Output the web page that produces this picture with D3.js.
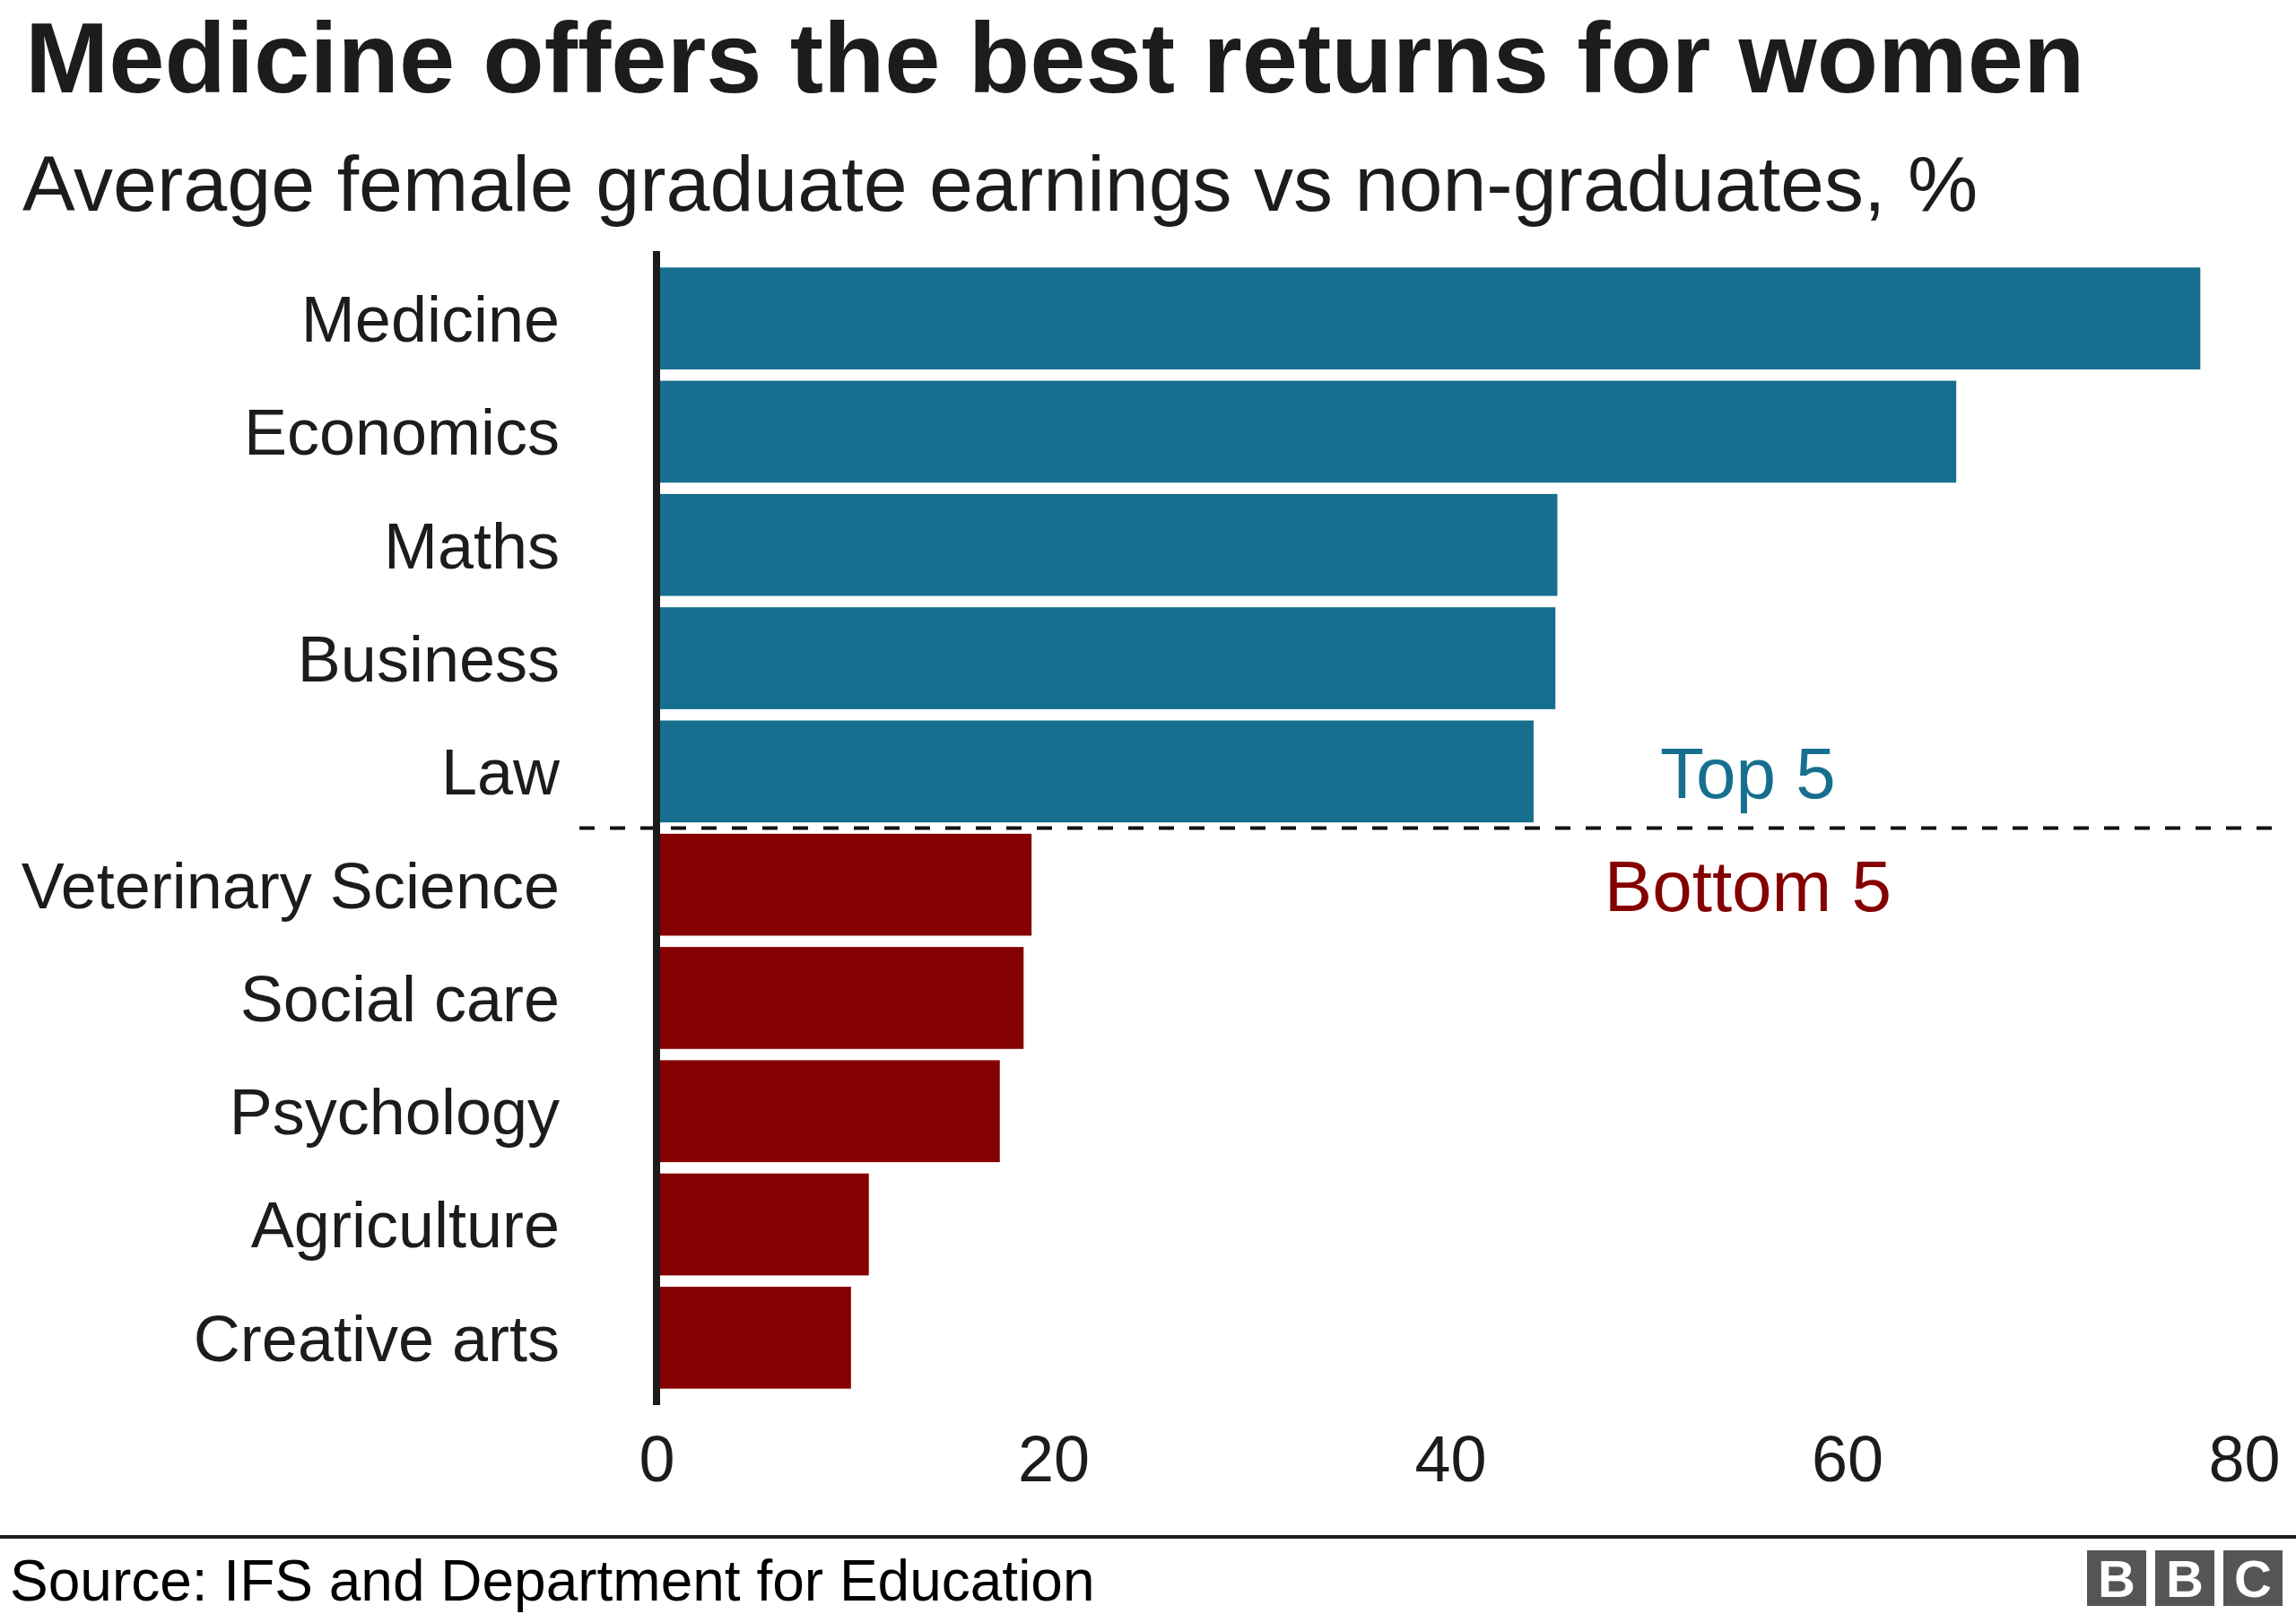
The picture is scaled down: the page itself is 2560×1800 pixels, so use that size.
<!DOCTYPE html>
<meta charset="utf-8">
<title>Medicine offers the best returns for women</title>
<style>
body { margin: 0; background: #fff; }
svg { display: block; font-family: "Liberation Sans", Arial, Helvetica, sans-serif; }
</style>

<svg width="2560" height="1800"></svg>
<script src="https://cdn.jsdelivr.net/npm/d3@7"></script>
<script>

var subjects = ["Medicine", "Economics", "Maths", "Business", "Law",
                "Veterinary Science", "Social care", "Psychology", "Agriculture", "Creative arts"];
var returns = [77.8, 65.5, 45.4, 45.3, 44.2, 18.9, 18.5, 17.3, 10.7, 9.8];
var groups = ["top", "top", "top", "top", "top", "bottom", "bottom", "bottom", "bottom", "bottom"];
var xTicks = [0, 20, 40, 60, 80];

var colours = { top: "#176f8f", bottom: "#850000" };

var svg = d3.select("svg"),
    width = +svg.attr("width"),
    height = +svg.attr("height");

var x = d3.scaleLinear()
    .domain([0, 80])
    .range([732, 2502]);

var y = d3.scaleBand()
    .domain(subjects)
    .range([292, 1555])
    .paddingInner(0.1)
    .paddingOuter(0.05);

// title + subtitle
svg.append("text")
    .attr("x", 28)
    .attr("y", 103)
    .attr("font-size", 112)
    .attr("font-weight", "bold")
    .attr("fill", "#1c1c1c")
    .text("Medicine offers the best returns for women");

svg.append("text")
    .attr("x", 25)
    .attr("y", 235)
    .attr("font-size", 88)
    .attr("fill", "#1c1c1c")
    .text("Average female graduate earnings vs non-graduates, %");

// bars
svg.selectAll("rect.bar")
  .data(subjects)
  .enter().append("rect")
    .attr("class", "bar")
    .attr("x", x(0))
    .attr("y", function(d) { return y(d); })
    .attr("width", function(d, i) { return x(returns[i]) - x(0); })
    .attr("height", y.bandwidth())
    .attr("fill", function(d, i) { return colours[groups[i]]; });

// divider between top and bottom five
var divY = (y("Law") + y.bandwidth() + y("Veterinary Science")) / 2;
svg.append("line")
    .attr("x1", 646)
    .attr("x2", 2539)
    .attr("y1", divY)
    .attr("y2", divY)
    .attr("stroke", "#111")
    .attr("stroke-width", 4)
    .attr("stroke-dasharray", "17,17");

// zero line
svg.append("line")
    .attr("x1", x(0))
    .attr("x2", x(0))
    .attr("y1", 280)
    .attr("y2", 1567)
    .attr("stroke", "#1c1c1c")
    .attr("stroke-width", 8);

// category labels
var yAxis = svg.append("g")
    .attr("transform", "translate(624,0)")
    .call(d3.axisLeft(y).tickSize(0).tickPadding(0));
yAxis.select(".domain").remove();
yAxis.selectAll("text")
    .attr("font-size", 72)
    .attr("font-family", null)
    .attr("fill", "#1c1c1c")
    .attr("dy", "0.36em");

// x axis labels
var xAxis = svg.append("g")
    .attr("transform", "translate(0,1600)")
    .call(d3.axisBottom(x).tickValues(xTicks).tickSize(0).tickPadding(0));
xAxis.select(".domain").remove();
xAxis.selectAll("text")
    .attr("font-size", 72)
    .attr("font-family", null)
    .attr("fill", "#1c1c1c")
    .attr("dy", "0.72em");

// group annotations
svg.append("text")
    .attr("x", x(55))
    .attr("y", y("Law") + y.bandwidth() / 2)
    .attr("dy", "0.37em")
    .attr("text-anchor", "middle")
    .attr("font-size", 80)
    .attr("fill", colours.top)
    .text("Top 5");

svg.append("text")
    .attr("x", x(55))
    .attr("y", y("Veterinary Science") + y.bandwidth() / 2)
    .attr("dy", "0.37em")
    .attr("text-anchor", "middle")
    .attr("font-size", 80)
    .attr("fill", colours.bottom)
    .text("Bottom 5");

// footer
svg.append("line")
    .attr("x1", 0)
    .attr("x2", width)
    .attr("y1", 1714)
    .attr("y2", 1714)
    .attr("stroke", "#1c1c1c")
    .attr("stroke-width", 4);

svg.append("text")
    .attr("x", 11)
    .attr("y", 1785)
    .attr("font-size", 64)
    .attr("fill", "#000")
    .text("Source: IFS and Department for Education");

var logo = svg.append("g").attr("transform", "translate(2327,1729)");
logo.selectAll("rect")
  .data(["B", "B", "C"])
  .enter().append("rect")
    .attr("x", function(d, i) { return i * 76; })
    .attr("width", 66)
    .attr("height", 62)
    .attr("fill", "#555");
logo.selectAll("text")
  .data(["B", "B", "C"])
  .enter().append("text")
    .attr("x", function(d, i) { return i * 76 + 33; })
    .attr("y", 52)
    .attr("text-anchor", "middle")
    .attr("font-size", 58)
    .attr("font-weight", "bold")
    .attr("fill", "#fff")
    .text(function(d) { return d; });

</script>
